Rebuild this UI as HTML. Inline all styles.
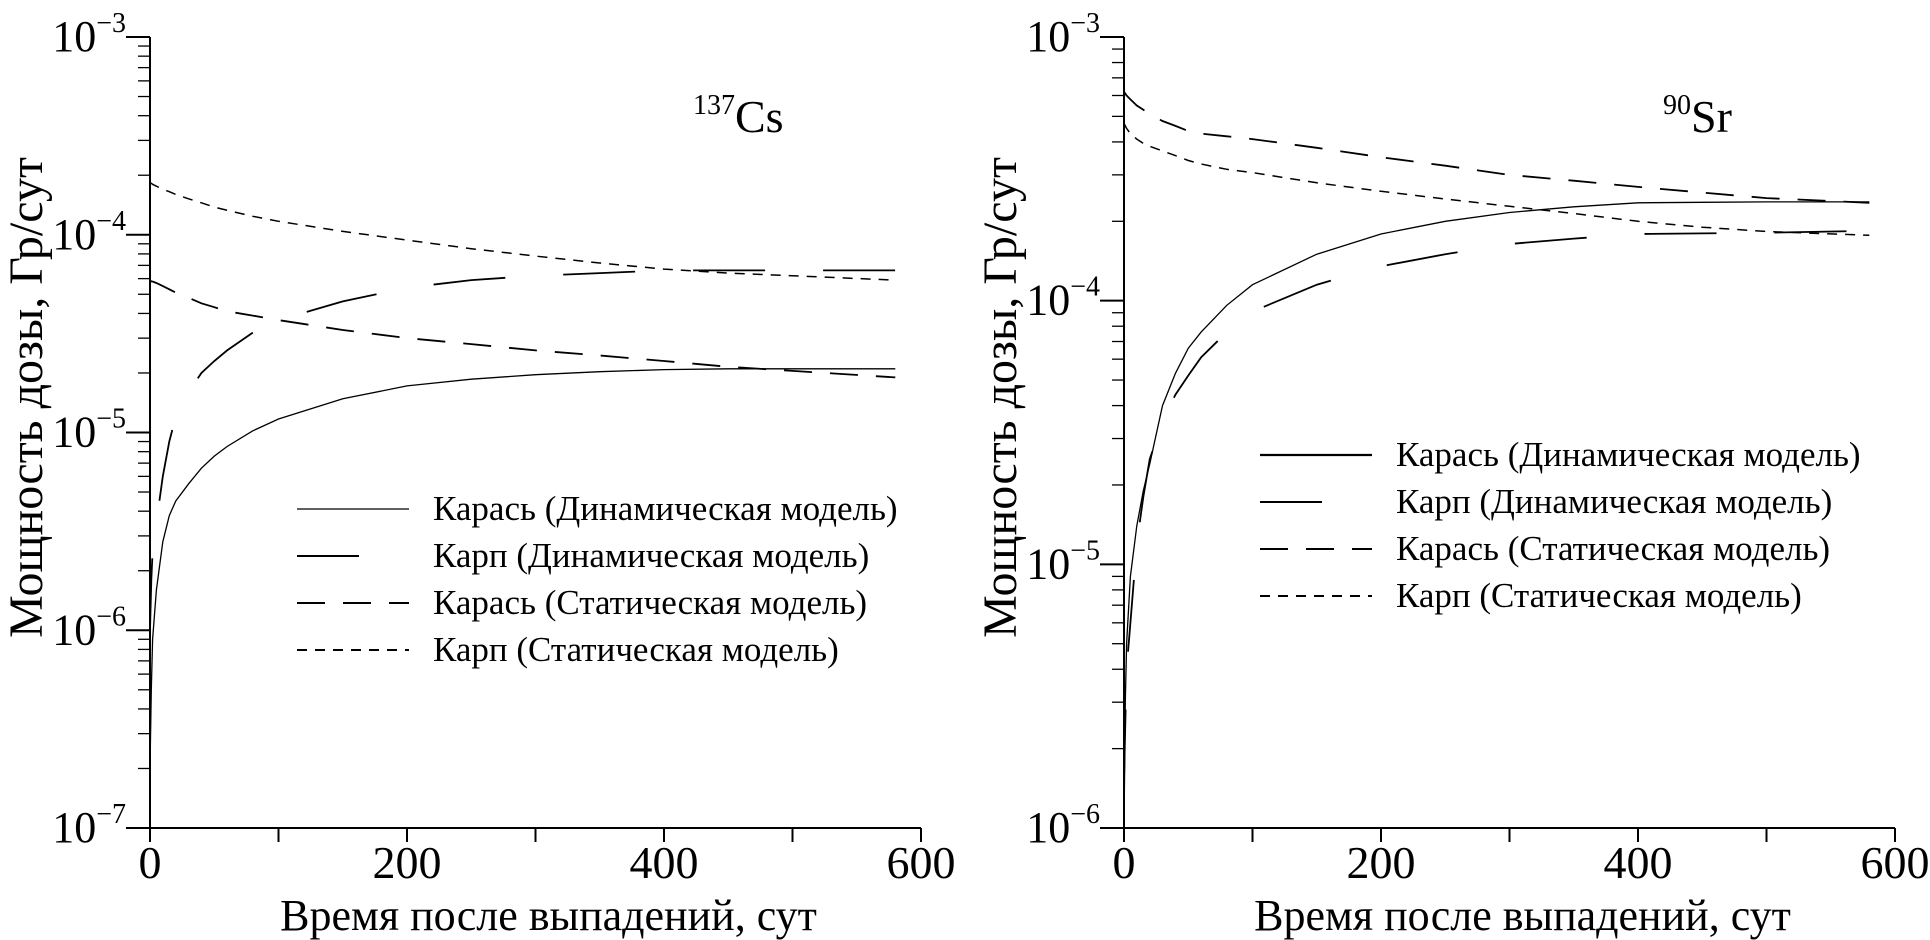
<!DOCTYPE html>
<html><head><meta charset="utf-8"><style>
html,body{margin:0;padding:0;background:#fff;}
svg{display:block;font-family:"Liberation Serif","DejaVu Serif",serif;}
</style></head><body>
<svg id="c" width="1930" height="940" viewBox="0 0 1930 940" xmlns="http://www.w3.org/2000/svg"></svg>
<script>
const times = [0,1,2,5,10,15,20,30,40,50,60,80,100,150,200,250,300,350,400,450,500,580];
const csKarasDyn = [2e-7,5e-7,9e-7,1.6e-6,2.8e-6,3.8e-6,4.5e-6,5.5e-6,6.6e-6,7.6e-6,8.5e-6,1.02e-5,1.17e-5,1.48e-5,1.72e-5,1.86e-5,1.96e-5,2.03e-5,2.08e-5,2.1e-5,2.1e-5,2.1e-5];
const csKarpDyn = [1e-6,1.8e-6,2.5e-6,3.5e-6,6e-6,9e-6,1.2e-5,1.6e-5,2.0e-5,2.3e-5,2.6e-5,3.2e-5,3.7e-5,4.6e-5,5.4e-5,5.9e-5,6.2e-5,6.4e-5,6.6e-5,6.6e-5,6.6e-5,6.6e-5];
const csKarasStat = [5.9e-5,5.8e-5,5.8e-5,5.7e-5,5.5e-5,5.3e-5,5.1e-5,4.8e-5,4.5e-5,4.3e-5,4.1e-5,3.9e-5,3.7e-5,3.3e-5,3.0e-5,2.8e-5,2.6e-5,2.45e-5,2.3e-5,2.15e-5,2.05e-5,1.9e-5];
const csKarpStat = [1.83e-4,1.82e-4,1.8e-4,1.76e-4,1.7e-4,1.65e-4,1.6e-4,1.52e-4,1.45e-4,1.38e-4,1.33e-4,1.24e-4,1.17e-4,1.04e-4,9.4e-5,8.5e-5,7.8e-5,7.2e-5,6.7e-5,6.4e-5,6.2e-5,5.9e-5];
const srKarasDyn = [1e-6,3e-6,5e-6,9e-6,1.4e-5,1.9e-5,2.4e-5,4.0e-5,5.3e-5,6.6e-5,7.6e-5,9.6e-5,1.15e-4,1.5e-4,1.79e-4,2.0e-4,2.16e-4,2.27e-4,2.35e-4,2.36e-4,2.37e-4,2.37e-4];
const srKarpDyn = [1.5e-6,2.5e-6,4e-6,6e-6,1.2e-5,1.8e-5,2.5e-5,3.5e-5,4.4e-5,5.2e-5,6.1e-5,7.6e-5,9.1e-5,1.15e-4,1.35e-4,1.5e-4,1.64e-4,1.72e-4,1.79e-4,1.8e-4,1.81e-4,1.84e-4];
const srKarasStat = [6.2e-4,6.1e-4,6.0e-4,5.8e-4,5.5e-4,5.3e-4,5.1e-4,4.8e-4,4.6e-4,4.4e-4,4.3e-4,4.2e-4,4.1e-4,3.8e-4,3.5e-4,3.25e-4,3.0e-4,2.85e-4,2.7e-4,2.57e-4,2.45e-4,2.35e-4];
const srKarpStat = [4.7e-4,4.6e-4,4.5e-4,4.3e-4,4.1e-4,3.95e-4,3.85e-4,3.7e-4,3.55e-4,3.4e-4,3.3e-4,3.15e-4,3.06e-4,2.8e-4,2.6e-4,2.43e-4,2.28e-4,2.14e-4,2.0e-4,1.9e-4,1.83e-4,1.77e-4];
const xTicks = [0,200,400,600];
const legendLabels = ["Карась (Динамическая модель)","Карп (Динамическая модель)","Карась (Статическая модель)","Карп (Статическая модель)"];

const NS="http://www.w3.org/2000/svg";
const svg=document.getElementById('c');
function mk(tag,attrs,parent){const e=document.createElementNS(NS,tag);for(const k in attrs)e.setAttribute(k,attrs[k]);(parent||svg).appendChild(e);return e;}
const dashes=["none","72 58","28 18","10 8"];
const widths=[1.3,1.8,1.8,1.5];

function panel(cfg){
  const g=mk('g',{});
  
  
  const x=t=>cfg.x0+(t/600)*(cfg.x1-cfg.x0);
  const y=v=>cfg.yTop+(cfg.maxExp-Math.log10(v))/(cfg.maxExp-cfg.minExp)*(cfg.yBot-cfg.yTop);
  const ya=mk('line',{x1:cfg.x0,y1:cfg.yTop,x2:cfg.x0,y2:cfg.yBot,stroke:'#000','stroke-width':2},g);
  
  const xa=mk('line',{x1:cfg.x0-24,y1:cfg.yBot,x2:cfg.x1,y2:cfg.yBot,stroke:'#000','stroke-width':2},g);
  
  for(let e=cfg.minExp;e<=cfg.maxExp;e++){
    const yy=y(Math.pow(10,e));
    mk('line',{x1:cfg.x0-24,y1:yy,x2:cfg.x0,y2:yy,stroke:'#000','stroke-width':2},g);
    const t=mk('text',{x:cfg.x0-24,y:yy+14,'font-size':44,'text-anchor':'end'},g);
    
    t.textContent='10';
    const s=mk('tspan',{dy:-19,'font-size':28},t);s.textContent='−'+(-e);
    if(e<cfg.maxExp){for(let m=2;m<=9;m++){const ym=y(m*Math.pow(10,e));mk('line',{x1:cfg.x0-12,y1:ym,x2:cfg.x0,y2:ym,stroke:'#000','stroke-width':1.3},g);}}
  }
  for(let t=0;t<=600;t+=100){mk('line',{x1:x(t),y1:cfg.yBot,x2:x(t),y2:cfg.yBot+14,stroke:'#000','stroke-width':2},g);}
  xTicks.forEach(t=>{const l=mk('text',{x:x(t),y:cfg.yBot+50,'font-size':46,'text-anchor':'middle'},g);
    l.textContent=t;});
  const xt=mk('text',{x:(cfg.x0+cfg.x1)/2+13,y:930,'font-size':44,'text-anchor':'middle'},g);
  xt.textContent='Время после выпадений, сут';
  const ytx=cfg.x0-108, yty=(cfg.yTop+cfg.yBot)/2-35;
  const yt=mk('text',{x:ytx,y:yty,'font-size':48,'text-anchor':'middle',transform:`rotate(-90 ${ytx} ${yty})`},g);
  yt.textContent='Мощность дозы, Гр/сут';
  cfg.series.forEach((arr,i)=>{
    const d=arr.map((v,k)=>(k?'L':'M')+x(times[k]).toFixed(1)+' '+y(v).toFixed(1)).join(' ');
    const p=mk('path',{d:d,fill:'none',stroke:'#000','stroke-width':widths[i],'stroke-dasharray':dashes[i]},g);
    
  });
  legendLabels.forEach((lab,i)=>{
    const ly=cfg.legY+i*cfg.legStep;
    const ln=mk('line',{x1:cfg.legX,y1:ly,x2:cfg.legX+112,y2:ly,stroke:'#000','stroke-width':i==0?cfg.leg0w:2,'stroke-dasharray':i==1?'62 60':dashes[i]},g);
    
    const tx=mk('text',{x:cfg.legX+136,y:ly+11,'font-size':35},g);
    tx.textContent=lab;
  });
  const an=mk('text',{x:cfg.annX,y:132,'font-size':46},g);
  
  const sup=mk('tspan',{dy:-18,'font-size':28},an);sup.textContent=cfg.isoNum;
  const main=mk('tspan',{dy:18},an);main.textContent=cfg.isoSym;
}
panel({name:'cs137-panel',x0:150,x1:921,yTop:37,yBot:828,minExp:-7,maxExp:-3,
  series:[csKarasDyn,csKarpDyn,csKarasStat,csKarpStat],seriesNames:['karas-dynamic','karp-dynamic','karas-static','karp-static'],
  legX:297,legY:509,legStep:47,leg0w:1.2,annX:693,isoNum:'137',isoSym:'Cs'});
panel({name:'sr90-panel',x0:1124,x1:1895,yTop:37,yBot:828,minExp:-6,maxExp:-3,
  series:[srKarasDyn,srKarpDyn,srKarasStat,srKarpStat],seriesNames:['karas-dynamic','karp-dynamic','karas-static','karp-static'],
  legX:1260,legY:455,legStep:47,leg0w:2.2,annX:1663,isoNum:'90',isoSym:'Sr'});
</script>
</body></html>
